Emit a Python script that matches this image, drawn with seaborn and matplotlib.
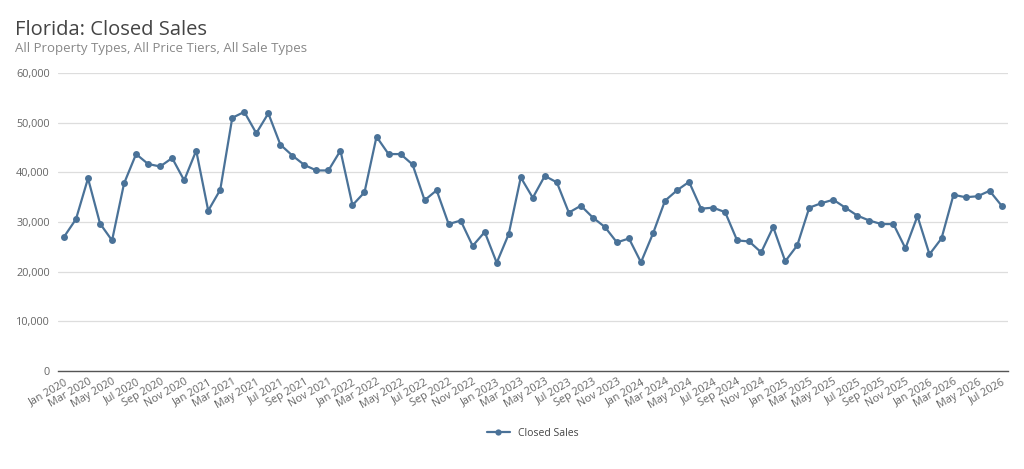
import pandas as pd
import matplotlib
matplotlib.use("Agg")
import matplotlib.pyplot as plt
import seaborn as sns

# Monthly closed sales, Jan 2020 - Jul 2026
closed_sales = [
    27000, 30600, 38800, 29700, 26300, 37800, 43700, 41700, 41200, 42900, 38400, 44400,  # 2020
    32300, 36500, 51000, 52200, 47900, 51900, 45600, 43400, 41500, 40400, 40400, 44400,  # 2021
    33400, 36000, 47200, 43700, 43700, 41600, 34400, 36400, 29600, 30300, 25200, 28000,  # 2022
    21800, 27600, 39000, 34900, 39300, 38000, 31900, 33300, 30900, 29000, 25900, 26700,  # 2023
    21900, 27700, 34300, 36400, 38100, 32700, 32900, 32000, 26300, 26100, 23900, 29000,  # 2024
    22100, 25300, 32900, 33800, 34500, 32900, 31300, 30300, 29600, 29600, 24700, 31200,  # 2025
    23500, 26700, 35500, 35000, 35200, 36300, 33300,                                      # 2026
]
months = pd.date_range("2020-01-01", periods=len(closed_sales), freq="MS")
month_labels = [m.strftime("%b %Y") for m in months]
y_ticks = [0, 10000, 20000, 30000, 40000, 50000, 60000]

df = pd.DataFrame({"idx": range(len(closed_sales)), "Closed Sales": closed_sales})

sns.set_theme(style="white")
plt.rcParams["font.family"] = ["Open Sans", "DejaVu Sans"]

line_color = "#4a7298"

fig = plt.figure(figsize=(10.24, 4.69), dpi=100)
ax = fig.add_axes([0.0566, 0.209, 0.9274, 0.635])

sns.lineplot(data=df, x="idx", y="Closed Sales", ax=ax, color=line_color,
             marker="o", markersize=5, markeredgewidth=0, linewidth=1.6,
             label="Closed Sales")

ax.set_xlim(-0.5, len(closed_sales) - 0.5)
ax.set_ylim(0, 60000)
ax.set_yticks(y_ticks)
ax.set_yticklabels([f"{v:,}" for v in y_ticks])
ax.set_xticks(range(0, len(closed_sales), 2))
ax.set_xticklabels(month_labels[::2], rotation=30, ha="right", rotation_mode="anchor")
ax.set_xlabel("")
ax.set_ylabel("")

ax.grid(axis="y", color="#dddddd", linewidth=0.9)
ax.set_axisbelow(True)
for side in ["top", "right", "left"]:
    ax.spines[side].set_visible(False)
ax.spines["bottom"].set_color("#555555")
ax.spines["bottom"].set_linewidth(1.0)
ax.tick_params(axis="both", length=0, labelsize=7.8, labelcolor="#666666")
ax.tick_params(axis="x", pad=4)
ax.tick_params(axis="y", pad=6)

ax.legend(loc="upper center", bbox_to_anchor=(0.5, -0.16), frameon=False,
          fontsize=7.5, labelcolor="#444444", handlelength=2.2, markerscale=0.9)

fig.text(0.0146, 0.925, "Florida: Closed Sales", fontsize=14.5, color="#444444")
fig.text(0.0146, 0.89, "All Property Types, All Price Tiers, All Sale Types",
         fontsize=9.5, color="#888888")

fig.savefig("out.png", dpi=100)
